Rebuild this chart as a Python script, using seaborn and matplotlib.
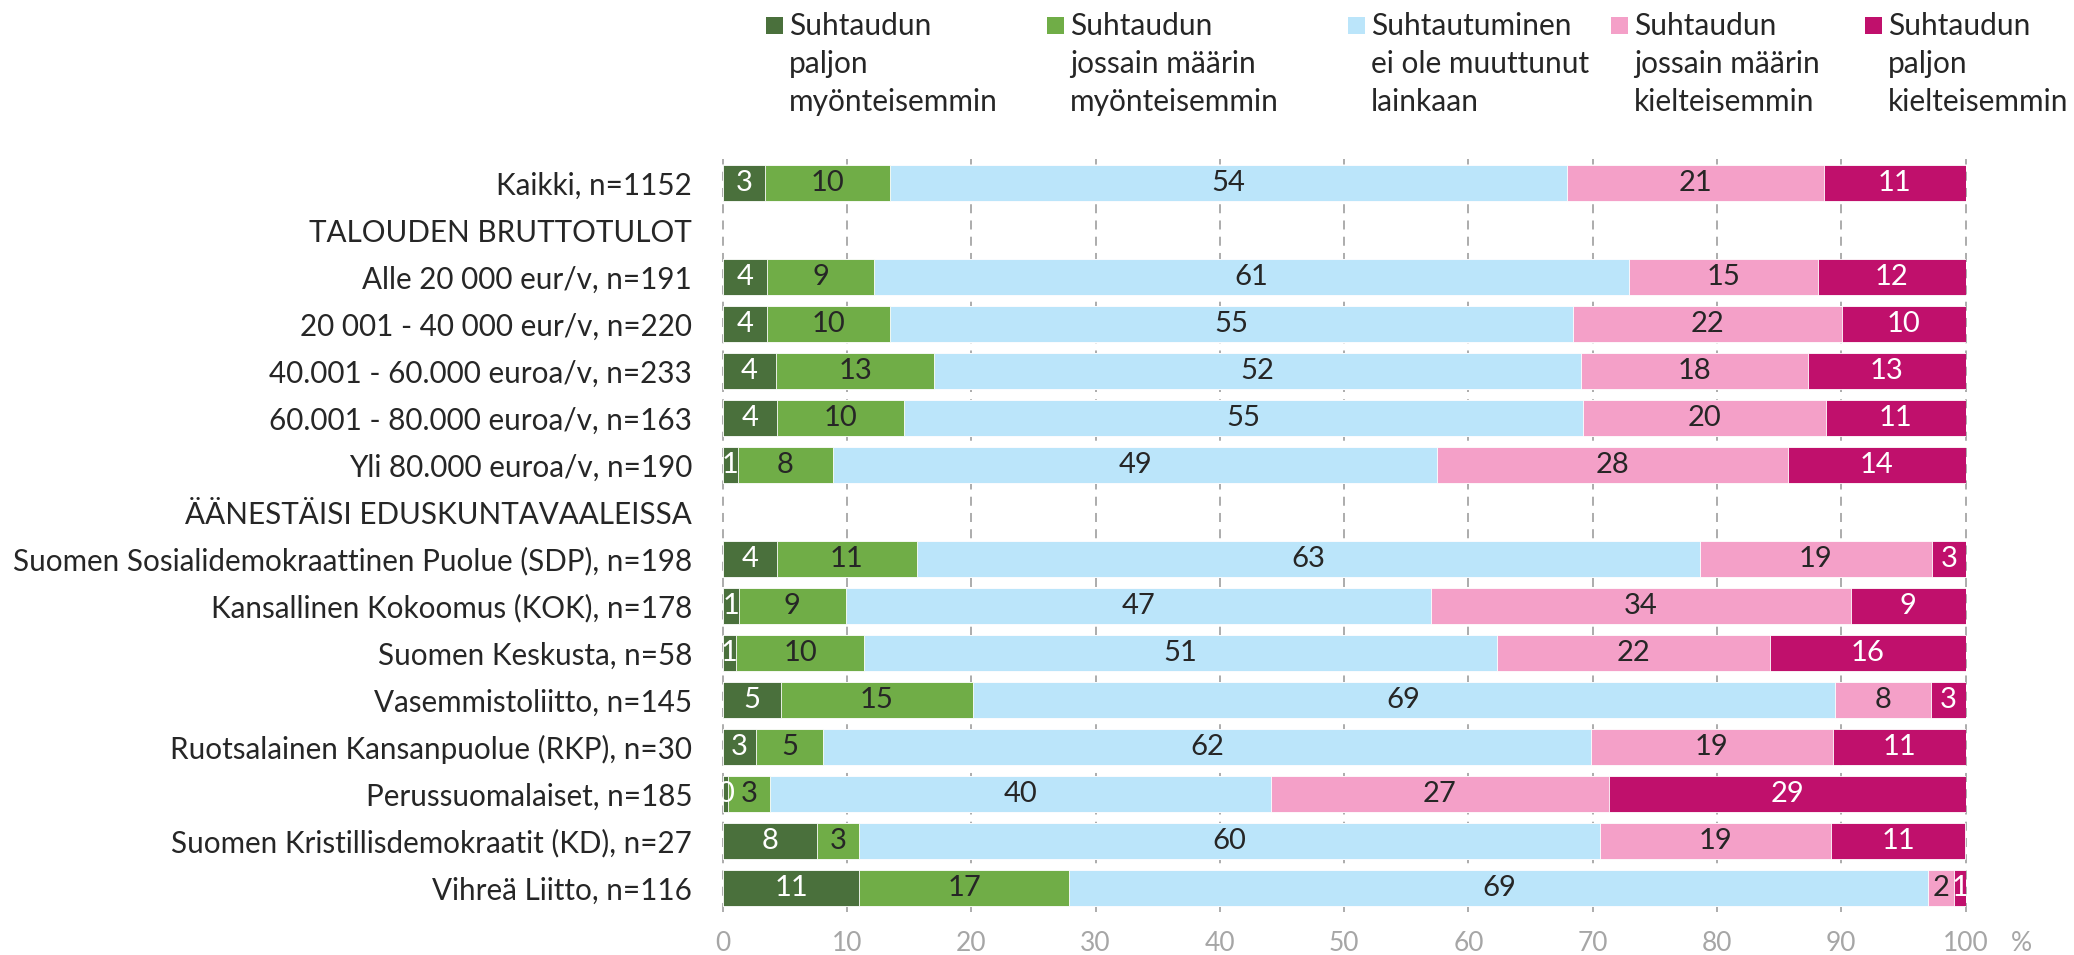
import numpy as np
import pandas as pd
import seaborn as sns
import matplotlib.pyplot as plt
from matplotlib.patches import Rectangle

# rows of the chart (two header rows have no bars)
categories = [
    "Kaikki, n=1152",
    "TALOUDEN BRUTTOTULOT",
    "Alle 20 000 eur/v, n=191",
    "20 001 - 40 000 eur/v, n=220",
    "40.001 - 60.000 euroa/v, n=233",
    "60.001 - 80.000 euroa/v, n=163",
    "Yli 80.000 euroa/v, n=190",
    "ÄÄNESTÄISI EDUSKUNTAVAALEISSA",
    "Suomen Sosialidemokraattinen Puolue (SDP), n=198",
    "Kansallinen Kokoomus (KOK), n=178",
    "Suomen Keskusta, n=58",
    "Vasemmistoliitto, n=145",
    "Ruotsalainen Kansanpuolue (RKP), n=30",
    "Perussuomalaiset, n=185",
    "Suomen Kristillisdemokraatit (KD), n=27",
    "Vihreä Liitto, n=116",
]

nan = np.nan
paljon_myont = [3.4, nan, 3.6, 3.6, 4.3, 4.4, 1.2, nan, 4.4, 1.3, 1.1, 4.7, 2.7, 0.4, 7.6, 11.0]
jossain_myont = [10.1, nan, 8.6, 9.9, 12.7, 10.2, 7.7, nan, 11.2, 8.6, 10.3, 15.4, 5.4, 3.4, 3.4, 16.9]
ei_muuttunut = [54.4, nan, 60.7, 54.9, 52.1, 54.6, 48.6, nan, 63.0, 47.1, 50.9, 69.4, 61.8, 40.3, 59.6, 69.1]
jossain_kielt = [20.7, nan, 15.2, 21.7, 18.2, 19.6, 28.2, nan, 18.7, 33.8, 22.0, 7.7, 19.4, 27.2, 18.6, 2.1]
paljon_kielt = [11.4, nan, 11.9, 9.9, 12.7, 11.2, 14.3, nan, 2.7, 9.2, 15.7, 2.8, 10.7, 28.7, 10.8, 0.9]

series_names = [
    "Suhtaudun\npaljon\nmyönteisemmin",
    "Suhtaudun\njossain määrin\nmyönteisemmin",
    "Suhtautuminen\nei ole muuttunut\nlainkaan",
    "Suhtaudun\njossain määrin\nkielteisemmin",
    "Suhtaudun\npaljon\nkielteisemmin",
]
x_ticks = [0, 10, 20, 30, 40, 50, 60, 70, 80, 90, 100]

colors = ["#4A703C", "#70AD47", "#BBE5FA", "#F4A0C8", "#C0106C"]
label_colors = ["white", "#262626", "#262626", "#262626", "white"]
text_color = "#262626"
axis_gray = "#A6A6A6"

sns.set_theme(style="white")
plt.rcParams["font.family"] = ["Lato", "DejaVu Sans"]

W, H = 2074, 955
fig = plt.figure(figsize=(W / 100, H / 100), dpi=100)
ax = fig.add_axes([722.7 / W, 1 - 911.5 / H, (1965.5 - 722.7) / W, (911.5 - 159.5) / H])

values = np.array([paljon_myont, jossain_myont, ei_muuttunut, jossain_kielt, paljon_kielt])
cum = np.cumsum(values, axis=0)

# stacked bars: draw cumulative totals from the widest down
for i in reversed(range(len(series_names))):
    df = pd.DataFrame({"kategoria": categories, "arvo": cum[i]})
    sns.barplot(data=df, x="arvo", y="kategoria", order=categories, orient="h",
                color=colors[i], saturation=1, width=0.766, errorbar=None,
                edgecolor="white", linewidth=0.6, ax=ax, zorder=2)

# segment value labels
for i in range(len(series_names)):
    for row, v in enumerate(values[i]):
        if np.isnan(v):
            continue
        ax.text(cum[i][row] - v / 2, row, f"{v:.0f}", ha="center", va="center",
                fontsize=21, color=label_colors[i], zorder=3)

ax.set_xlim(0, 100)
ax.set_ylim(len(categories) - 0.5, -0.5)
ax.set_xticks(x_ticks)
ax.set_xlabel("")
ax.set_ylabel("")
for s in ax.spines.values():
    s.set_visible(False)
ax.xaxis.grid(True, linestyle=(0, (5, 4)), color=axis_gray, linewidth=1.3)
ax.yaxis.grid(False)
ax.set_axisbelow(True)
for gl in ax.get_xgridlines():
    gl.set_clip_on(False)
ax.tick_params(axis="x", length=0, pad=14, labelsize=19, labelcolor=axis_gray)
ax.tick_params(axis="y", length=0, pad=22, labelsize=21.3, labelcolor=text_color)

fig.text(2021 / W, 1 - 943 / H, "%", ha="center", va="center", fontsize=19, color=axis_gray)

# legend across the top, square beside the first line of each entry
box_x = [766, 1047, 1348, 1611, 1865]
line_y0, line_step, box = 26, 38, 17
for i, name in enumerate(series_names):
    fig.add_artist(Rectangle((box_x[i] / W, 1 - (line_y0 + box / 2) / H), box / W, box / H,
                             transform=fig.transFigure, facecolor=colors[i], edgecolor="none"))
    for j, line in enumerate(name.split("\n")):
        fig.text((box_x[i] + box + 6) / W, 1 - (line_y0 + line_step * j) / H, line,
                 ha="left", va="center", fontsize=21.5, color=text_color)

fig.savefig("out.png", dpi=100)
